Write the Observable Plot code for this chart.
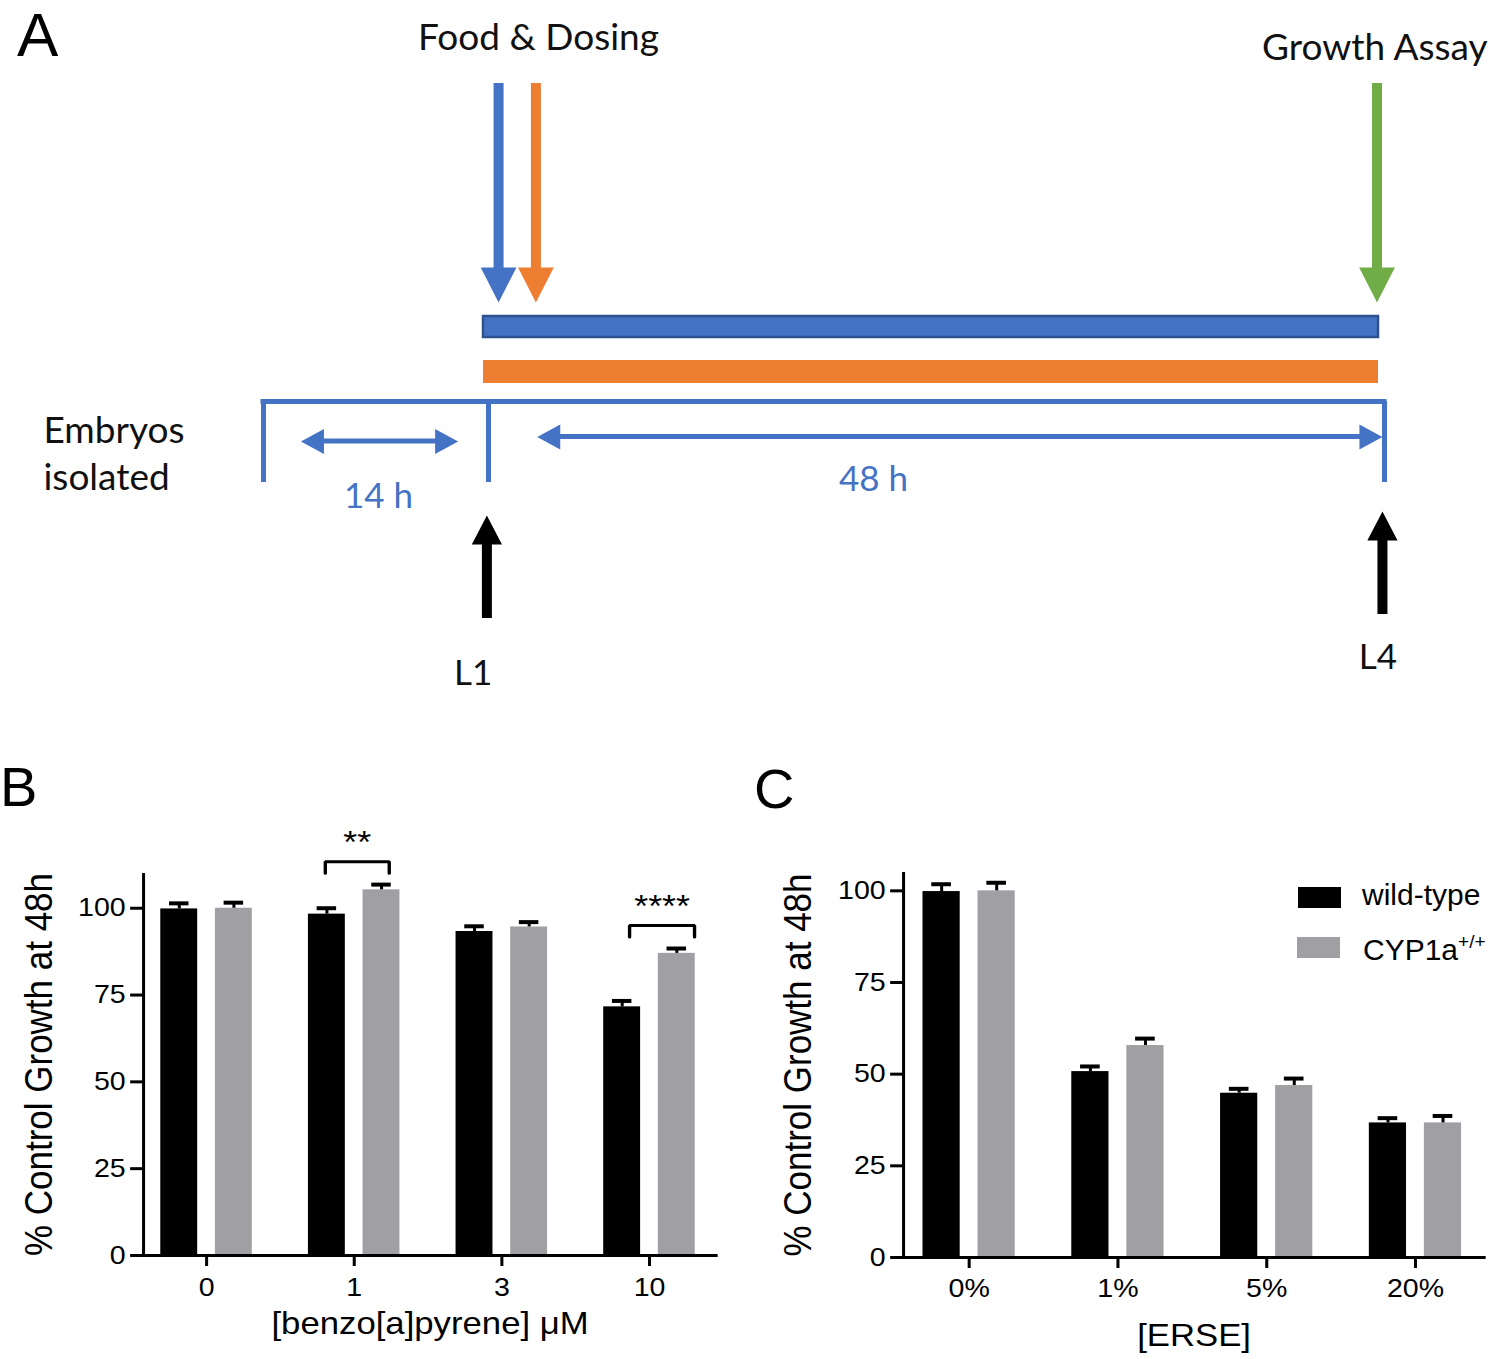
<!DOCTYPE html>
<html>
<head>
<meta charset="utf-8">
<script src="https://cdn.jsdelivr.net/npm/d3@7"></script>
<script src="https://cdn.jsdelivr.net/npm/@observablehq/plot@0.6"></script>
<style>
  html, body { margin: 0; padding: 0; background: #fff; }
  #fig { position: relative; width: 1500px; height: 1359px; overflow: hidden; background: #fff; }
  .panel { position: absolute; transform-origin: 0 0; }
  .plabel { position: absolute; color: #000; white-space: nowrap; }
  .sw { position: absolute; }
  .lg { position: absolute; line-height: 1; font-family: "Liberation Sans", Arial, sans-serif; font-size: 30px; color: #000; white-space: nowrap; }
</style>
</head>
<body>
<div id="fig"></div>
<script>
// ================= DATA =================
// Panel A – experimental schedule (hours after embryo isolation)
const stageNames = ["Embryos isolated", "L1", "L4"];
const stageHours = [0, 14, 62];
const intervalLabels = ["14 h", "48 h"];
const eventLabels = ["Food & Dosing", "Growth Assay"];
const eventHours = [16.68, 61.48];          // label centres
const treatArrowNames = ["Food", "Dosing", "Growth Assay"];
const treatArrowHours = [14.54, 16.54, 61.6];
const exposureNames = ["Food", "Dosing"];
const exposureFrom = [13.69, 13.69];
const exposureTo = [61.68, 61.68];
const intervalArrowFrom = [2.33, 16.61];
const intervalArrowTo = [12.11, 61.89];
const stageArrowHours = [13.9, 61.89];      // L1, L4 arrows
const stageLabelHours = [-13.69, 13.04, 61.65];
const intervalLabelHours = [7.16, 34.63];

// Panel B – benzo[a]pyrene
const bapDoses = ["0", "1", "3", "10"];
const bapWildType = [99.8, 98.3, 93.3, 71.6];
const bapWildTypeErr = [1.6, 1.7, 1.5, 1.7];
const bapCyp = [100.0, 105.3, 94.6, 87.0];
const bapCypErr = [1.6, 1.5, 1.4, 1.4];
const bapSignificance = [{dose: "1", label: "**"}, {dose: "10", label: "****"}];

// Panel C – ERSE
const erseDoses = ["0%", "1%", "5%", "20%"];
const erseWildType = [99.8, 50.7, 44.8, 36.7];
const erseWildTypeErr = [2.0, 1.4, 1.2, 1.3];
const erseCyp = [100.0, 57.8, 46.9, 36.7];
const erseCypErr = [2.2, 1.9, 1.9, 1.9];

const genotypes = ["wild-type", "CYP1a+/+"];
const yTicks = [0, 25, 50, 75, 100];

// ================= STYLE / LAYOUT =================
const blue = "#4472C4", blueDark = "#2F528F", orange = "#ED7D31", green = "#70AD47";
const arrowColors = [blue, orange, green];
const exposureColors = [blue, orange];
const genotypeColors = ["#000000", "#a0a0a4"];
const barSpan = [[-0.31, -0.06], [0.06, 0.31]];           // bar extent within a group
const bracketSpan = {"1": [-0.196, 0.237], "10": [-0.135, 0.305]};
const stretch = 1.12;                                       // horizontal stretch of panels B & C
// schematic lanes (vertical layout, px from the top of panel A)
const lane = {
  eventText: [38, 48], shaftTop: 83, shaftBottom: 280, downTip: 302,
  exposure: [[316, 337], [360, 383]], timeline: 401, tickBottom: 482,
  intervalArrow: [441, 436.5], intervalText: [496, 479.5],
  upTip: [515, 511], upBottom: [618, 614], stageText: [451, 673, 657]
};

// triangle arrow-head symbols; the tip sits on the anchor point
function head(dir, ratio) {
  return {
    draw(ctx, size) {
      const h = Math.sqrt(size / Math.PI), w = h * ratio;
      ctx.moveTo(0, 0);
      if (dir === "down") { ctx.lineTo(-w, -h); ctx.lineTo(w, -h); }
      else if (dir === "up") { ctx.lineTo(-w, h); ctx.lineTo(w, h); }
      else if (dir === "left") { ctx.lineTo(h, -w); ctx.lineTo(h, w); }
      else { ctx.lineTo(-h, -w); ctx.lineTo(-h, w); }
      ctx.closePath();
    }
  };
}

const fig = document.getElementById("fig");
function place(el, left, top, sx = 1) {
  const wrap = document.createElement("div");
  wrap.className = "panel";
  wrap.style.left = left + "px";
  wrap.style.top = top + "px";
  if (sx !== 1) wrap.style.transform = `scaleX(${sx})`;
  wrap.appendChild(el);
  fig.appendChild(wrap);
}

// ================= PANEL A =================
const downArrows = treatArrowNames.map((n, i) => ({n, t: treatArrowHours[i], c: arrowColors[i]}));
const exposures = exposureNames.map((n, i) => ({n, from: exposureFrom[i], to: exposureTo[i], c: exposureColors[i], y1: lane.exposure[i][0], y2: lane.exposure[i][1]}));
const intervals = intervalLabels.map((l, i) => ({l, from: intervalArrowFrom[i], to: intervalArrowTo[i], y: lane.intervalArrow[i], tx: intervalLabelHours[i], ty: lane.intervalText[i]}));
const upArrows = stageArrowHours.map((t, i) => ({t, tip: lane.upTip[i], bottom: lane.upBottom[i]}));
const events = eventLabels.map((l, i) => ({l, t: eventHours[i], y: lane.eventText[i]}));
const stageText = stageNames.map((s, i) => ({s: s.replace(" ", "\n"), t: stageLabelHours[i], y: lane.stageText[i]}));

const panelA = Plot.plot({
  width: 1500, height: 720, margin: 0,
  x: {type: "linear", domain: stageHours, range: [263, 488, 1384], axis: null},
  y: {type: "linear", domain: [0, 720], range: [0, 720], axis: null},
  style: {fontFamily: "Lato, 'Open Sans', sans-serif", background: "transparent", overflow: "visible", color: "#111"},
  marks: [
    Plot.text(events, {x: "t", y: "y", text: "l", fontSize: 37, fill: "#111"}),
    Plot.ruleX(downArrows, {x: "t", y1: lane.shaftTop, y2: lane.shaftBottom, stroke: "c", strokeWidth: 10}),
    Plot.dot(downArrows, {x: "t", y: lane.downTip, fill: "c", r: 35, symbol: head("down", 0.51)}),
    Plot.rect(exposures, {x1: "from", x2: "to", y1: "y1", y2: "y2", fill: "c",
      stroke: d => d.n === "Food" ? blueDark : "none", strokeWidth: 2.5}),
    Plot.ruleY([lane.timeline], {x1: stageHours[0], x2: stageHours[2], stroke: blue, strokeWidth: 5, strokeLinecap: "square"}),
    Plot.ruleX(stageHours, {x: d => d, y1: lane.timeline, y2: lane.tickBottom, stroke: blue, strokeWidth: 5}),
    Plot.rect(intervals, {x1: "from", x2: "to", y1: d => d.y - 2.5, y2: d => d.y + 2.5, fill: blue, insetLeft: 12, insetRight: 12}),
    Plot.dot(intervals, {x: "from", y: "y", fill: blue, r: 23, symbol: head("left", 0.54)}),
    Plot.dot(intervals, {x: "to", y: "y", fill: blue, r: 23, symbol: head("right", 0.54)}),
    Plot.text(intervals, {x: "tx", y: "ty", text: "l", fontSize: 35, fill: blue}),
    Plot.text(stageText.slice(0, 1), {x: "t", y: "y", text: "s", fontSize: 37, textAnchor: "start", lineHeight: 1.27, fill: "#111"}),
    Plot.text(stageText.slice(1), {x: "t", y: "y", text: "s", fontSize: 35, fill: "#111"}),
    Plot.ruleX(upArrows, {x: "t", y1: d => d.tip + 20, y2: "bottom", stroke: "#000", strokeWidth: 10}),
    Plot.dot(upArrows, {x: "t", y: "tip", fill: "#000", r: 29, symbol: head("up", 0.52)})
  ]
});
place(panelA, 0, 0);

// ================= PANELS B & C =================
function groupedBars(o) {
  const rows = o.doses.flatMap((dose, i) => [
    {i, dose, k: 0, genotype: genotypes[0], value: o.wt[i], err: o.wtErr[i]},
    {i, dose, k: 1, genotype: genotypes[1], value: o.cyp[i], err: o.cypErr[i]}
  ]);
  const left = r => r.i + barSpan[r.k][0];
  const right = r => r.i + barSpan[r.k][1];
  const mid = r => (left(r) + right(r)) / 2;
  const brackets = (o.significance || []).map(s => {
    const i = o.doses.indexOf(s.dose);
    const top = d3.max(rows.filter(r => r.i === i), r => r.value + r.err);
    const [a, b] = bracketSpan[s.dose];
    return {label: s.label, x1: i + a, x2: i + b, leg: top + 3.3, bar: top + 6.6, text: top + 14.4};
  });
  const bracketPts = brackets.flatMap((b, j) => [
    {id: j, x: b.x1, y: b.leg}, {id: j, x: b.x1, y: b.bar}, {id: j, x: b.x2, y: b.bar}, {id: j, x: b.x2, y: b.leg}
  ]);
  const W = 750 / stretch;
  return Plot.plot({
    width: W, height: 599,
    marginLeft: o.left / stretch, marginRight: W - o.right / stretch, marginTop: o.marginTop, marginBottom: o.marginBottom,
    x: {type: "linear", domain: o.xDomain},
    y: {domain: [0, o.yMax]},
    color: {domain: genotypes, range: genotypeColors},
    style: {fontFamily: "'Liberation Sans', Arial, sans-serif", background: "transparent", overflow: "visible", color: "#000"},
    marks: [
      Plot.rectY(rows, {x1: left, x2: right, y1: 0, y2: "value", fill: "genotype"}),
      Plot.ruleX(rows, {x: mid, y1: "value", y2: r => r.value + r.err, stroke: "#000", strokeWidth: 2.7}),
      Plot.ruleY(rows, {y: r => r.value + r.err, x1: r => mid(r) - 0.066, x2: r => mid(r) + 0.066, stroke: "#000", strokeWidth: 4}),
      Plot.ruleX([o.xDomain[0]], {stroke: "#000", strokeWidth: 2.7}),
      Plot.ruleY([0], {stroke: "#000", strokeWidth: 3, strokeLinecap: "square"}),
      Plot.axisY({ticks: yTicks, tickSize: 11.5, tickPadding: 4.5, fontSize: 25.5, strokeWidth: 3, label: null, tickFormat: d => String(d)}),
      Plot.axisX({ticks: [0, 1, 2, 3], tickFormat: i => o.doses[i], tickSize: 11, tickPadding: o.tickPadX, fontSize: 25.5, strokeWidth: 2.7, label: null}),
      Plot.line(bracketPts, {x: "x", y: "y", z: "id", stroke: "#000", strokeWidth: 3, strokeLinejoin: "miter"}),
      Plot.text(brackets, {x: b => (b.x1 + b.x2) / 2, y: "text", text: "label", fontSize: 32, dy: 8}),
      Plot.text([o.yLabel], {text: d => d, frameAnchor: "left", textAnchor: "middle", lineAnchor: "middle", rotate: -90, dx: o.yLabelDx / stretch, fontSize: 35}),
      Plot.text([o.xLabel], {text: d => d, frameAnchor: "bottom", textAnchor: "middle", lineAnchor: "middle", dy: o.xLabelDy, fontSize: 31})
    ]
  });
}

const panelB = groupedBars({
  doses: bapDoses, wt: bapWildType, wtErr: bapWildTypeErr, cyp: bapCyp, cypErr: bapCypErr,
  significance: bapSignificance, yMax: 110, xDomain: [-0.427, 3.454],
  left: 143, right: 716, marginTop: 113, marginBottom: 104, tickPadX: 11,
  yLabel: "% Control Growth at 48h", xLabel: "[benzo[a]pyrene] \u03bcM", yLabelDx: -104, xLabelDy: 69
});
place(panelB, 0, 760, stretch);

const panelC = groupedBars({
  doses: erseDoses, wt: erseWildType, wtErr: erseWildTypeErr, cyp: erseCyp, cypErr: erseCypErr,
  significance: [], yMax: 105, xDomain: [-0.441, 3.464],
  left: 153, right: 734, marginTop: 112, marginBottom: 102, tickPadX: 10,
  yLabel: "% Control Growth at 48h", xLabel: "[ERSE]", yLabelDx: -105, xLabelDy: 79
});
place(panelC, 750, 760, stretch);

// ================= PANEL LETTERS & LEGEND =================
function addLabel(txt, left, top, size, family, lh) {
  const d = document.createElement("div");
  d.className = "plabel";
  d.textContent = txt;
  d.style.left = left + "px"; d.style.top = top + "px";
  d.style.fontSize = size + "px"; d.style.fontFamily = family; d.style.lineHeight = lh;
  fig.appendChild(d);
}
addLabel("A", 17, 4, 62, "'Liberation Sans', Arial, sans-serif", 1);
addLabel("B", 0, 759, 56, "'Liberation Sans', Arial, sans-serif", 1);
addLabel("C", 754, 761, 56, "'Liberation Sans', Arial, sans-serif", 1);

const legendRows = [
  {sw: [1298, 887], text: [1362, 879.5], html: genotypes[0]},
  {sw: [1297, 937], text: [1363, 934.5], html: "CYP1a<span style=\"font-size:19px;position:relative;top:-12px\">+/+</span>"}
];
legendRows.forEach((r, i) => {
  const s = document.createElement("div");
  s.className = "sw";
  s.style.left = r.sw[0] + "px"; s.style.top = r.sw[1] + "px";
  s.style.width = "43px"; s.style.height = "21px"; s.style.background = genotypeColors[i];
  fig.appendChild(s);
  const t = document.createElement("div");
  t.className = "lg";
  t.style.left = r.text[0] + "px"; t.style.top = r.text[1] + "px";
  t.innerHTML = r.html;
  fig.appendChild(t);
});
</script>
</body>
</html>
